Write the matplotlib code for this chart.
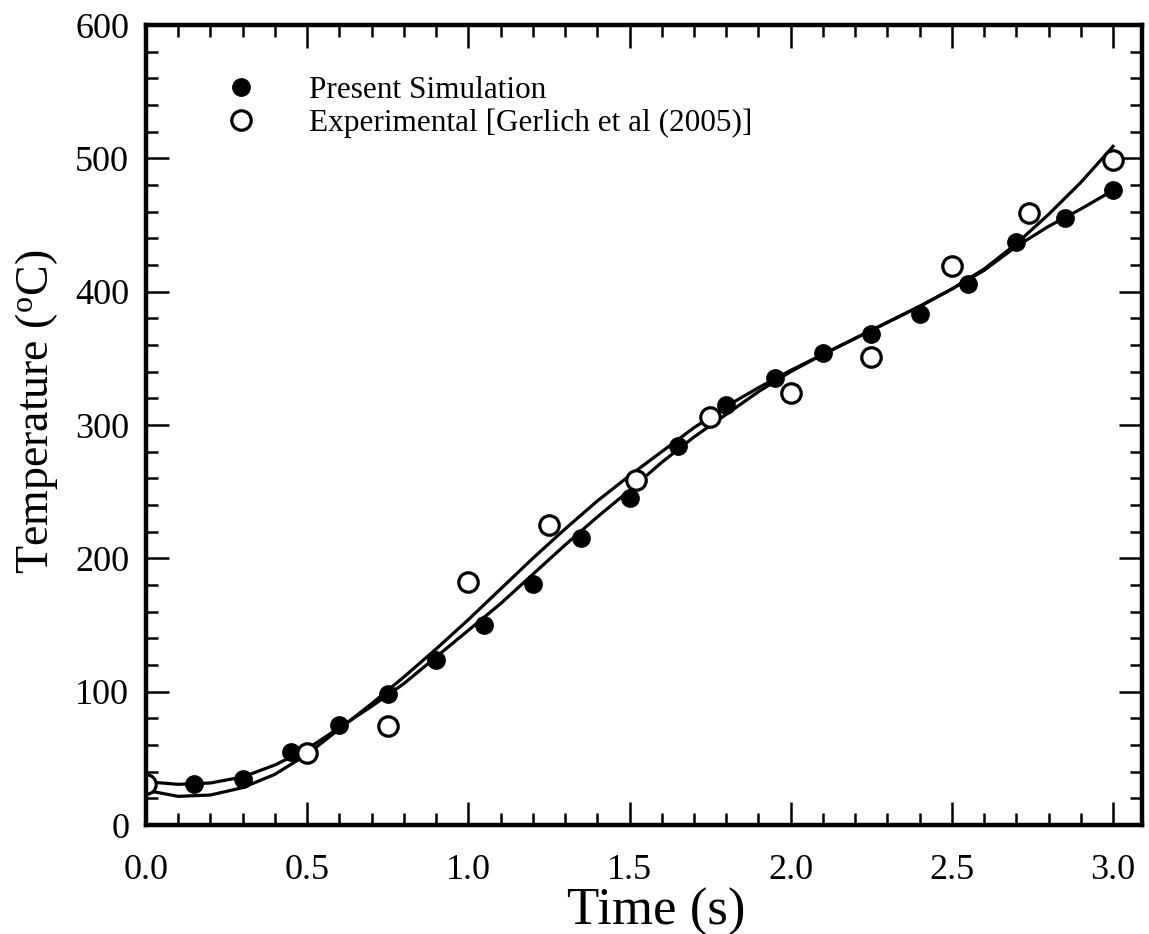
import matplotlib.pyplot as plt
from matplotlib.ticker import MultipleLocator

plt.rcParams['font.family'] = ['Liberation Serif', 'DejaVu Serif']
plt.rcParams['mathtext.fontset'] = 'stix'

# Present Simulation (filled circles)
t_sim = [0.15, 0.30, 0.45, 0.60, 0.75, 0.90, 1.05, 1.20, 1.35, 1.50, 1.65,
         1.80, 1.95, 2.10, 2.25, 2.40, 2.55, 2.70, 2.85, 3.00]
T_sim = [31, 34.5, 54.5, 75, 98, 124, 150, 181, 215, 245, 284,
         315, 335, 354, 368, 383, 406, 437, 455, 476]

# Experimental [Gerlich et al (2005)] (open circles)
t_exp = [0.0, 0.50, 0.75, 1.00, 1.25, 1.52, 1.75, 2.00, 2.25, 2.50, 2.74, 3.00]
T_exp = [31, 54, 74, 182, 225, 259, 306, 324, 351, 419, 459, 499]

# fitted curves
t_fit = [0.0, 0.1, 0.2, 0.3, 0.4, 0.5, 0.6, 0.7, 0.8, 0.9, 1.0,
         1.1, 1.2, 1.3, 1.4, 1.5, 1.6, 1.7, 1.8, 1.9, 2.0,
         2.1, 2.2, 2.3, 2.4, 2.5, 2.6, 2.7, 2.8, 2.9, 3.0]
T_fit_sim = [32.5, 30.5, 31.5, 36, 45, 57, 73, 89, 106, 126, 146,
             166, 188, 210, 231, 251, 272, 291, 308, 325, 340,
             353, 365, 377, 389, 402, 416, 434, 449, 462, 476]
T_fit_exp = [26, 21.5, 22.5, 28, 38, 53, 72, 91, 111, 132, 154,
             177, 200, 222, 243, 262, 280, 298, 314, 328, 341,
             353, 365, 377, 389, 402, 417, 436, 458, 482, 509]

fig = plt.figure(figsize=(11.49, 9.34), dpi=100)
ax = fig.add_axes([0.127, 0.1167, 0.867, 0.8565])

ax.plot(t_fit, T_fit_sim, '-', color='black', linewidth=2.3)
ax.plot(t_fit, T_fit_exp, '-', color='black', linewidth=2.3)
ax.plot(t_sim, T_sim, 'o', color='black', markersize=12.5,
        label='Present Simulation')
ax.plot(t_exp, T_exp, 'o', markerfacecolor='white', markeredgecolor='black',
        markersize=14, markeredgewidth=2.3,
        label='Experimental [Gerlich et al (2005)]')

ax.set_xlim(0, 3.09)
ax.set_ylim(0, 600)
ax.xaxis.set_major_locator(MultipleLocator(0.5))
ax.xaxis.set_minor_locator(MultipleLocator(0.1))
ax.yaxis.set_major_locator(MultipleLocator(100))
ax.yaxis.set_minor_locator(MultipleLocator(20))
ax.xaxis.set_major_formatter(lambda v, p: f'{v:.1f}')

ax.tick_params(which='both', direction='in', top=True, right=True, width=1.8)
ax.tick_params(which='major', length=16.5, labelsize=26)
ax.tick_params(which='minor', length=8.5)
ax.tick_params(axis='x', which='major', pad=21)
ax.tick_params(axis='y', which='major', pad=12)
for s in ax.spines.values():
    s.set_linewidth(3.2)

ax.set_xlabel('Time (s)', fontsize=38)
ax.set_ylabel(r'Temperature ($\mathregular{^o}$C)', fontsize=33)
ax.xaxis.set_label_coords(0.512, -0.078)
ax.yaxis.set_label_coords(-0.086, 0.516)

ax.legend(loc='upper left', bbox_to_anchor=(0.052, 0.971), frameon=False,
          fontsize=22.5, handlelength=1.0, handletextpad=1.65, labelspacing=0.1,
          markerscale=1.0)

fig.savefig('out.png', dpi=100)
